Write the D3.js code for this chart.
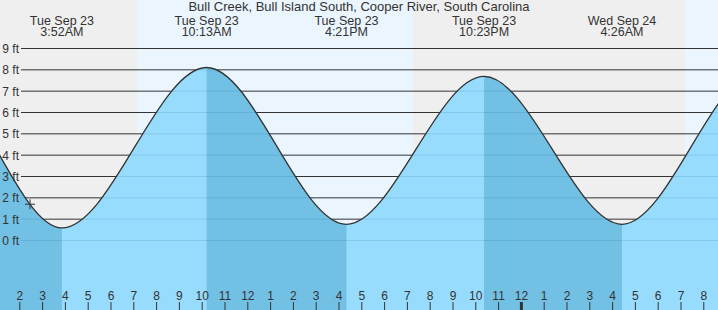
<!DOCTYPE html>
<html>
<head>
<meta charset="utf-8">
<script src="https://cdn.jsdelivr.net/npm/d3@7"></script>
<style>
body { margin: 0; overflow: hidden; background: #fff; }
svg { display: block; font-family: "Liberation Sans", Arial, sans-serif; }
</style>
</head>
<body>
<div id="chart"></div>
<script>
// times are hours from 00:00 Tue Sep 23
const tideTimes = [-8.1, -1.8, 3.867, 10.217, 16.35, 22.383, 28.433, 34.48, 40.7];
const tideHeights = [0.7, 7.8, 0.59, 8.11, 0.76, 7.69, 0.76, 8.0, 0.5];

const labelTimes = [3.867, 10.217, 16.35, 22.383, 28.433];
const labelDays = ["Tue Sep 23", "Tue Sep 23", "Tue Sep 23", "Tue Sep 23", "Wed Sep 24"];
const labelClock = ["3:52AM", "10:13AM", "4:21PM", "10:23PM", "4:26AM"];

const sunTimes = [7.2, 19.27, 31.2]; // sunrise, sunset, sunrise
const hourTicks = [2, 3, 4, 5, 6, 7, 8, 9, 10, 11, 12, 13, 14, 15, 16, 17, 18, 19, 20, 21, 22, 23, 24,
    25, 26, 27, 28, 29, 30, 31, 32];
const ftTicks = [0, 1, 2, 3, 4, 5, 6, 7, 8, 9];
const nowMark = [2.47, 1.7];

const title = "Bull Creek, Bull Island South, Cooper River, South Carolina";

const width = 718, height = 310;

const x = d3.scaleLinear().domain([1.1535, 32.645]).range([0, width]);
const y = d3.scaleLinear().domain([0, 9]).range([240.5, 48.5]);

const svg = d3.select("#chart").append("svg")
    .attr("width", width)
    .attr("height", height);

// night / day bands
const edges = [x.domain()[0]].concat(sunTimes, [x.domain()[1]]);
for (let i = 0; i < edges.length - 1; i++) {
    svg.append("rect")
        .attr("x", x(edges[i]))
        .attr("y", 0)
        .attr("width", x(edges[i + 1]) - x(edges[i]))
        .attr("height", height)
        .attr("fill", i % 2 === 0 ? "#efefef" : "#eaf5fe");
}

svg.append("g").selectAll("line")
    .data(ftTicks)
    .join("line")
    .attr("x1", 21).attr("x2", width)
    .attr("y1", d => y(d)).attr("y2", d => y(d))
    .attr("stroke", "#333");

const tide = tideTimes.map((t, i) => ({t: t, h: tideHeights[i]}));

const area = d3.area()
    .x(d => x(d.t))
    .y0(height)
    .y1(d => y(d.h))
    .curve(d3.curveMonotoneX);

const line = d3.line()
    .x(d => x(d.t))
    .y(d => y(d.h))
    .curve(d3.curveMonotoneX);

svg.append("defs").append("clipPath")
    .attr("id", "under")
    .append("path")
    .attr("d", area(tide));

const under = svg.append("g").attr("clip-path", "url(#under)");

under.append("rect")
    .attr("x", 0).attr("y", 0)
    .attr("width", width).attr("height", height)
    .attr("fill", "#97dcfd");

// falling tide is darker
for (let i = 0; i < tide.length - 1; i++) {
    if (tide[i + 1].h < tide[i].h) {
        under.append("rect")
            .attr("x", x(tide[i].t))
            .attr("y", 0)
            .attr("width", x(tide[i + 1].t) - x(tide[i].t))
            .attr("height", height)
            .attr("fill", "#72c0e4");
    }
}

under.selectAll("line.grid")
    .data(ftTicks)
    .join("line")
    .attr("class", "grid")
    .attr("x1", 21).attr("x2", width)
    .attr("y1", d => y(d)).attr("y2", d => y(d))
    .attr("stroke", "rgba(0,80,140,0.14)");

svg.append("path")
    .datum(tide)
    .attr("d", line)
    .attr("fill", "none")
    .attr("stroke", "#333")
    .attr("stroke-width", 1.3);

// current time marker
svg.append("line")
    .attr("x1", x(nowMark[0]) - 5).attr("x2", x(nowMark[0]) + 5)
    .attr("y1", y(nowMark[1])).attr("y2", y(nowMark[1]))
    .attr("stroke", "#333");
svg.append("line")
    .attr("x1", x(nowMark[0])).attr("x2", x(nowMark[0]))
    .attr("y1", y(nowMark[1]) - 5).attr("y2", y(nowMark[1]) + 5)
    .attr("stroke", "#333");

svg.append("text")
    .attr("x", width / 2)
    .attr("y", 11)
    .attr("text-anchor", "middle")
    .attr("fill", "#333")
    .style("font-size", "13px")
    .text(title);

const labels = svg.append("g")
    .selectAll("g")
    .data(labelTimes)
    .join("g")
    .attr("transform", d => `translate(${x(d)},0)`);

labels.append("text")
    .attr("y", 24.5)
    .attr("text-anchor", "middle")
    .attr("fill", "#333")
    .style("font-size", "12.5px")
    .text((d, i) => labelDays[i]);

labels.append("text")
    .attr("y", 36)
    .attr("text-anchor", "middle")
    .attr("fill", "#333")
    .style("font-size", "12.5px")
    .text((d, i) => labelClock[i]);

const yAxis = svg.append("g")
    .attr("transform", "translate(20,0)")
    .call(d3.axisLeft(y).tickValues(ftTicks).tickFormat(d => d + " ft").tickSize(0).tickPadding(1));
yAxis.select(".domain").remove();
yAxis.selectAll("text")
    .attr("fill", "#333")
    .style("font-family", "'Liberation Sans', Arial, sans-serif")
    .style("font-size", "12px");

const xAxis = svg.append("g")
    .attr("transform", `translate(0,${height})`)
    .call(d3.axisTop(x).tickValues(hourTicks)
        .tickFormat(h => (h % 12 === 0 ? 12 : h % 12))
        .tickSize(8).tickPadding(2));
xAxis.select(".domain").remove();
xAxis.selectAll("line")
    .attr("stroke", "#333")
    .attr("stroke-width", d => (d === 24 ? 3 : 1));
xAxis.selectAll("text")
    .attr("fill", "#333")
    .style("font-family", "'Liberation Sans', Arial, sans-serif")
    .style("font-size", "12px");
</script>
</body>
</html>
